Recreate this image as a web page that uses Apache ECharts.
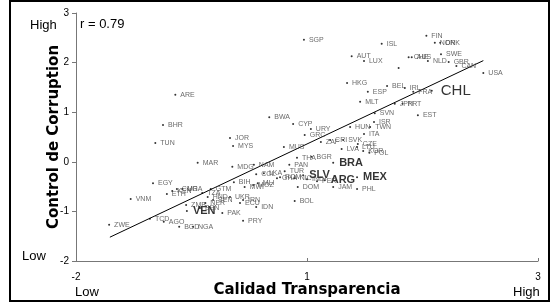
<!DOCTYPE html>
<html>
<head>
<meta charset="utf-8">
<script src="https://cdn.jsdelivr.net/npm/echarts@6/dist/echarts.min.js"></script>
<style>
  html, body { margin: 0; padding: 0; background: #fff; }
  #chart { width: 556px; height: 304px; }
</style>
</head>
<body>
<div id="chart"></div>
<script>
// country codes with their two scores
const countries = ['ARE','BHR','TUN','SGP','ISL','AUT','LUX','HKG','ESP','MLT','BEL','SVN','ISR','HUN','TWN','ITA',
  'BWA','CYP','URY','GRC','JOR','MYS','MUS','MAR','MDG','NAM','LKA','COL','TUR','PAN','ROM','GHA','BIH','MLI','MWI','MOZ',
  'GTM','IDN','PAK','PRY','VEN','BOL','DOM','CRI','ZAF','SVK','LVA','CZE','LTU','KOR','POL','BGR','THA','BRA','MEX','SLV',
  'ARG','PHL','JAM','PER','IND','NIC','FIN','NOR','DNK','SWE','CHE','AUS','NLD','GBR','CAN','USA','','IRL','FRA','CHL',
  'JPN','PRT','EST','EGY','VNM','ZWE','TCD','AGO','BGD','NGA','ETH','KEN','CMR','UGA','ZMB','TZA','HND','NER','SEN','UKR',
  'ECU','IRN','BEN'];
const transparencia = [-0.71,-0.87,-0.97,0.96,1.97,1.58,1.74,1.52,1.79,1.69,2.04,1.88,1.87,1.56,1.82,1.74,
  0.51,0.82,1.05,0.97,0.00,0.04,0.70,-0.42,0.03,0.31,0.44,0.34,0.71,0.77,0.65,0.61,0.05,0.36,0.19,0.30,
  -0.25,0.34,-0.10,0.17,-0.56,0.84,0.88,1.30,1.18,1.47,1.45,1.66,1.65,1.73,1.81,1.06,0.87,1.34,1.65,0.95,
  1.23,1.65,1.34,1.13,1.00,0.84,2.55,2.66,2.73,2.74,2.32,2.36,2.57,2.84,2.94,3.29,2.19,2.27,2.38,2.62,
  2.14,2.24,2.44,-1.00,-1.29,-1.57,-1.04,-0.86,-0.66,-0.48,-0.82,-0.75,-0.69,-0.62,-0.57,-0.36,-0.29,-0.32,-0.22,0.00,
  0.13,0.17,-0.39];
const corruption = [1.35,0.74,0.38,2.46,2.38,2.13,2.03,1.59,1.41,1.21,1.53,0.98,0.80,0.70,0.70,0.56,
  0.90,0.76,0.66,0.54,0.48,0.32,0.30,-0.02,-0.10,-0.06,-0.23,-0.25,-0.19,-0.06,-0.31,-0.33,-0.41,-0.43,-0.51,-0.47,
  -0.55,-0.91,-1.03,-1.19,-0.99,-0.79,-0.51,0.44,0.40,0.44,0.26,0.36,0.30,0.22,0.18,0.10,0.08,-0.02,-0.31,-0.27,
  -0.37,-0.55,-0.51,-0.39,-0.35,-0.33,2.54,2.40,2.40,2.17,2.11,2.11,2.03,2.01,1.93,1.79,1.89,1.49,1.41,1.43,
  1.17,1.17,0.94,-0.43,-0.75,-1.27,-1.15,-1.21,-1.31,-1.31,-0.65,-0.59,-0.55,-0.55,-0.87,-0.63,-0.71,-0.83,-0.77,-0.71,
  -0.83,-0.77,-0.93];
const highlighted = ['BRA','SLV','ARG','MEX','VEN'];
const mainCountry = 'CHL';
const trendX = [-1.56, 3.29];
const trendY = [-1.52, 2.04];
const xTickLabels = ['-2', '1', '3'];

const font = 'Liberation Sans, Arial, sans-serif';
const titleFont = 'DejaVu Sans, Liberation Sans, sans-serif';

const points = countries.map((c, i) => {
  const item = { name: c, value: [transparencia[i], corruption[i]] };
  if (c === mainCountry) {
    item.label = { fontSize: 15, color: '#000', distance: 8 };
  } else if (highlighted.includes(c)) {
    item.label = { fontSize: 11, fontWeight: 'bold', color: '#000', distance: 5 };
  }
  return item;
});

const chart = echarts.init(document.getElementById('chart'));
chart.setOption({
  backgroundColor: '#fff',
  animation: false,
  textStyle: { fontFamily: font },
  grid: { left: 76, right: 18, top: 13, bottom: 43 },
  xAxis: {
    type: 'value', min: -2, max: 4, interval: 3,
    name: 'Calidad Transparencia', nameLocation: 'middle', nameGap: 22, nameMoveOverlap: false,
    nameTextStyle: { fontSize: 15, fontWeight: 'bold', color: '#000', fontFamily: titleFont },
    splitLine: { show: false },
    axisLine: { onZero: false, lineStyle: { color: '#777' } },
    axisTick: { inside: true, length: 3, lineStyle: { color: '#777' } },
    axisLabel: { margin: 11, fontSize: 10, color: '#000', formatter: (v, i) => xTickLabels[i] }
  },
  yAxis: {
    type: 'value', min: -2, max: 3, interval: 1,
    name: 'Control de Corruption', nameLocation: 'middle', nameGap: 14, nameRotate: 90, nameMoveOverlap: false,
    nameTextStyle: { fontSize: 15, fontWeight: 'bold', color: '#000', fontFamily: titleFont },
    splitLine: { show: false },
    axisLine: { show: true, onZero: false, lineStyle: { color: '#777' } },
    axisTick: { show: true, length: 4, lineStyle: { color: '#777' } },
    axisLabel: { margin: 7, fontSize: 10, color: '#000' }
  },
  series: [
    {
      type: 'line',
      data: trendX.map((x, i) => [x, trendY[i]]),
      symbol: 'none',
      lineStyle: { color: '#000', width: 1 },
      z: 1
    },
    {
      type: 'scatter',
      data: points,
      symbolSize: 2,
      itemStyle: { color: '#000' },
      label: {
        show: true, position: 'right', distance: 4, formatter: '{b}',
        fontSize: 7, color: '#444', fontFamily: font
      },
      z: 2
    }
  ],
  graphic: [
    { type: 'rect', shape: { x: 10, y: 1, width: 539, height: 300 },
      style: { fill: 'none', stroke: '#000', lineWidth: 2 }, silent: true },
    { type: 'text', left: 80, top: 18, style: { text: 'r = 0.79', fill: '#000', font: '13px ' + font } },
    { type: 'text', left: 30, top: 19, style: { text: 'High', fill: '#000', font: '13px ' + font } },
    { type: 'text', left: 22, top: 250, style: { text: 'Low', fill: '#000', font: '13px ' + font } },
    { type: 'text', left: 75, top: 286, style: { text: 'Low', fill: '#000', font: '13px ' + font } },
    { type: 'text', left: 513, top: 286, style: { text: 'High', fill: '#000', font: '13px ' + font } }
  ]
});
</script>
</body>
</html>
